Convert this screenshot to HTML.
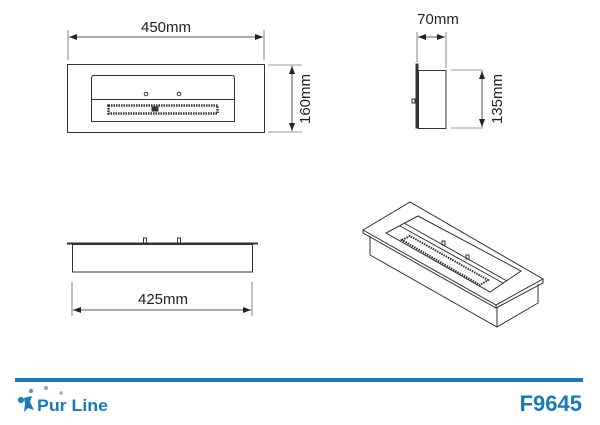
<!DOCTYPE html>
<html><head><style>
body{margin:0;background:#fff;}
svg{display:block}
text{font-family:"Liberation Sans",sans-serif;}
</style></head><body>
<svg width="600" height="425" viewBox="0 0 600 425" xmlns="http://www.w3.org/2000/svg">
<defs>
<marker id="a" markerWidth="8" markerHeight="6" refX="8" refY="3" orient="auto-start-reverse" markerUnits="userSpaceOnUse"><path d="M0,0 L8,3 L0,6 z" fill="#222"/></marker>
</defs>
<g stroke="#333" fill="none" stroke-width="1">
<!-- top view -->
<rect x="67.5" y="64.5" width="197" height="68"/>
<path d="M93,75.5 H232 Q234.5,75.5 234.5,78 V121.5 H91.5 V78 Q91.5,75.5 93,75.5 Z"/>
<line x1="92" y1="99.5" x2="234" y2="99.5"/>
<circle cx="146" cy="94" r="1.8"/><circle cx="179" cy="94" r="1.8"/>
<rect x="108.5" y="105.5" width="109" height="8" stroke-dasharray="1.5 1" stroke-width="2.5"/>
<rect x="152" y="107" width="6" height="4" fill="#333"/>
<line x1="68" y1="30" x2="68" y2="60" stroke-width="0.6"/>
<line x1="264" y1="30" x2="264" y2="60" stroke-width="0.6"/>
<line x1="69" y1="37" x2="263" y2="37" stroke="#222" marker-start="url(#a)" marker-end="url(#a)" stroke-width="0.8"/>
<line x1="268" y1="65" x2="302" y2="65" stroke-width="0.6"/>
<line x1="268" y1="132" x2="302" y2="132" stroke-width="0.6"/>
<line x1="292" y1="66" x2="292" y2="131" stroke="#222" marker-start="url(#a)" marker-end="url(#a)" stroke-width="0.8"/>
<!-- side view -->
<rect x="416" y="64" width="2" height="64" fill="#333"/>
<rect x="418.5" y="70.5" width="27.5" height="58"/>
<rect x="412" y="99" width="3" height="4"/>
<line x1="417" y1="32" x2="417" y2="62" stroke-width="0.6"/>
<line x1="446" y1="32" x2="446" y2="68" stroke-width="0.6"/>
<line x1="418" y1="37" x2="445" y2="37" stroke="#222" marker-start="url(#a)" marker-end="url(#a)" stroke-width="0.8"/>
<line x1="451" y1="70" x2="483" y2="70" stroke-width="0.6"/>
<line x1="451" y1="128" x2="483" y2="128" stroke-width="0.6"/>
<line x1="482" y1="71" x2="482" y2="127" stroke="#222" marker-start="url(#a)" marker-end="url(#a)" stroke-width="0.8"/>
<!-- front view -->
<line x1="67" y1="243.5" x2="258" y2="243.5" stroke-width="2"/>
<rect x="72.5" y="244.5" width="180" height="27.5"/>
<rect x="143.5" y="238" width="3" height="5"/><rect x="177.5" y="238" width="3" height="5"/>
<line x1="72" y1="282" x2="72" y2="316" stroke-width="0.6"/>
<line x1="252" y1="282" x2="252" y2="316" stroke-width="0.6"/>
<line x1="73" y1="310" x2="251" y2="310" stroke="#222" marker-start="url(#a)" marker-end="url(#a)" stroke-width="0.8"/>
<!-- iso -->
<path d="M363,230 L410,202 L543,279 L496,305 Z"/>
<path d="M363,230 L363,233 L496,308 L543,283 L543,279"/>
<line x1="496" y1="305" x2="496" y2="308"/>
<path d="M370,236 V255 L497,327 L538,303 V284"/>
<line x1="497" y1="308" x2="497" y2="327"/>
<path d="M386,233 L418,216 L521,271 L490,292 Z"/>
<path d="M400,226 L503,283" />
<path d="M404,223 L507,281" />
<path d="M402,240 L410,236 L488,280 L480,285 Z" stroke-dasharray="1.5 1" stroke-width="2"/>
<rect x="442" y="241" width="3" height="4"/><rect x="466" y="255" width="3" height="4"/>
</g>
<g fill="#222" font-size="15">
<text x="166" y="32" text-anchor="middle">450mm</text>
<text x="438" y="24" text-anchor="middle">70mm</text>
<text x="163" y="304" text-anchor="middle">425mm</text>
<text transform="translate(310,99) rotate(-90)" text-anchor="middle">160mm</text>
<text transform="translate(502,99) rotate(-90)" text-anchor="middle">135mm</text>
</g>
<!-- footer -->
<rect x="15" y="378" width="568" height="4" fill="#1a7ab8"/>
<g fill="#1a7ab8">
<circle cx="31" cy="391" r="2" fill="#5b8cc0"/><circle cx="46" cy="388" r="2.2" fill="#8aaed6"/><circle cx="61" cy="393" r="1.8" fill="#8aaed6"/>
<circle cx="21" cy="400" r="3"/><path d="M24,398 L32,396 L30,402 L34,410 L28,408 L24,412 L25,404 Z"/>
<text x="37" y="411" font-size="17" font-weight="bold" textLength="71" lengthAdjust="spacingAndGlyphs">Pur Line</text>
<text x="582" y="411" font-size="22" font-weight="bold" text-anchor="end">F9645</text>
</g>
</svg>
</body></html>
